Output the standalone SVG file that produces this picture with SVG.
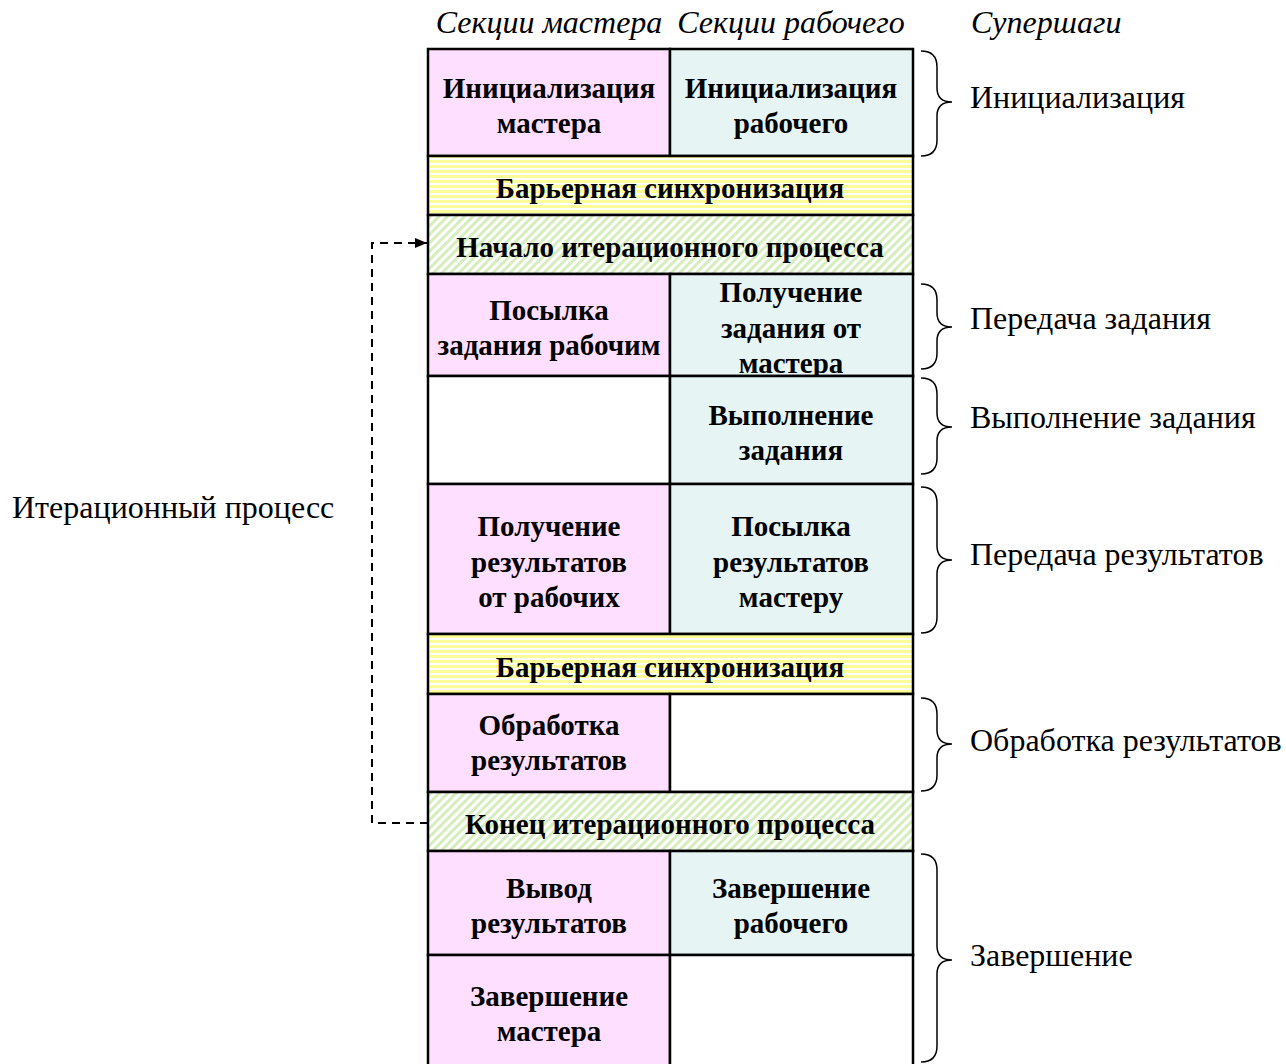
<svg xmlns="http://www.w3.org/2000/svg" width="1286" height="1064" viewBox="0 0 1286 1064">
<style>
.hdr{font-family:"Liberation Serif","Times New Roman",serif;font-style:italic;font-size:32px;fill:#000}
.lbl{font-family:"Liberation Serif","Times New Roman",serif;font-size:32px;fill:#000}
.cell{font-family:"Liberation Serif","Times New Roman",serif;font-weight:bold;font-size:29px;fill:#000;text-anchor:middle}
.box{stroke:#000;stroke-width:2.5}
.m{fill:#FFDFFF}
.w{fill:#E7F4F4}
.e{fill:#FFFFFF}
.brace{fill:none;stroke:#000;stroke-width:1.5}
</style>
<defs>
<pattern id="ys" width="10" height="5" patternUnits="userSpaceOnUse">
<rect width="10" height="5" fill="#FFFFFF"/>
<rect width="10" height="3" fill="#FFFF99"/>
</pattern>
<pattern id="gs" width="6" height="10" patternUnits="userSpaceOnUse" patternTransform="rotate(45)">
<rect width="6" height="10" fill="#FFFFFF"/>
<rect width="3" height="10" fill="#D6EDBE"/>
</pattern>
<marker id="arr" markerWidth="12" markerHeight="10" refX="12" refY="5" orient="auto" markerUnits="userSpaceOnUse">
<path d="M0,0 L12,5 L0,10 Z" fill="#000"/>
</marker>
</defs>

<g id="headers">
<text class="hdr" x="549" y="33" text-anchor="middle">Секции мастера</text>
<text class="hdr" x="791" y="33" text-anchor="middle">Секции рабочего</text>
<text class="hdr" x="971" y="33">Супершаги</text>
</g>

<g id="init-master"><rect class="box m" x="428" y="49" width="242" height="107"/>
<text class="cell" x="549" y="98">Инициализация</text><text class="cell" x="549" y="133">мастера</text></g>
<g id="init-worker"><rect class="box w" x="670" y="49" width="243" height="107"/>
<text class="cell" x="791" y="98">Инициализация</text><text class="cell" x="791" y="133">рабочего</text></g>

<g id="barrier1"><rect class="box" fill="url(#ys)" x="428" y="156" width="485" height="59"/>
<text class="cell" x="670" y="198">Барьерная синхронизация</text></g>

<g id="iter-start"><rect class="box" fill="url(#gs)" x="428" y="215" width="485" height="59"/>
<text class="cell" x="670" y="257">Начало итерационного процесса</text></g>

<g id="send-task"><rect class="box m" x="428" y="274" width="242" height="102"/>
<text class="cell" x="549" y="320">Посылка</text><text class="cell" x="549" y="355">задания рабочим</text></g>
<g id="recv-task"><rect class="box w" x="670" y="274" width="243" height="102"/>
<text class="cell" x="791" y="302">Получение</text><text class="cell" x="791" y="338">задания от</text><text class="cell" x="791" y="373">мастера</text></g>

<g id="exec-empty"><rect class="box e" x="428" y="376" width="242" height="108"/></g>
<g id="exec-task"><rect class="box w" x="670" y="376" width="243" height="108"/>
<text class="cell" x="791" y="425">Выполнение</text><text class="cell" x="791" y="460">задания</text></g>

<g id="recv-results"><rect class="box m" x="428" y="484" width="242" height="150"/>
<text class="cell" x="549" y="536">Получение</text><text class="cell" x="549" y="572">результатов</text><text class="cell" x="549" y="607">от рабочих</text></g>
<g id="send-results"><rect class="box w" x="670" y="484" width="243" height="150"/>
<text class="cell" x="791" y="536">Посылка</text><text class="cell" x="791" y="572">результатов</text><text class="cell" x="791" y="607">мастеру</text></g>

<g id="barrier2"><rect class="box" fill="url(#ys)" x="428" y="634" width="485" height="60"/>
<text class="cell" x="670" y="677">Барьерная синхронизация</text></g>

<g id="process-results"><rect class="box m" x="428" y="694" width="242" height="98"/>
<text class="cell" x="549" y="735">Обработка</text><text class="cell" x="549" y="770">результатов</text></g>
<g id="process-empty"><rect class="box e" x="670" y="694" width="243" height="98"/></g>

<g id="iter-end"><rect class="box" fill="url(#gs)" x="428" y="792" width="485" height="59"/>
<text class="cell" x="670" y="834">Конец итерационного процесса</text></g>

<g id="output"><rect class="box m" x="428" y="851" width="242" height="104"/>
<text class="cell" x="549" y="898">Вывод</text><text class="cell" x="549" y="933">результатов</text></g>
<g id="worker-finish"><rect class="box w" x="670" y="851" width="243" height="104"/>
<text class="cell" x="791" y="898">Завершение</text><text class="cell" x="791" y="933">рабочего</text></g>

<g id="master-finish"><rect class="box m" x="428" y="955" width="242" height="120"/>
<text class="cell" x="549" y="1006">Завершение</text><text class="cell" x="549" y="1041">мастера</text></g>
<g id="finish-empty"><rect class="box e" x="670" y="955" width="243" height="120"/></g>

<g id="braces">
<path class="brace" d="M921,51 C933,51 937,57 937,67 L937,88 C937,97 941,102 952,102 C941,102 937,107 937,116 L937,140 C937,150 933,156 921,156"/>
<path class="brace" d="M921,284 C933,284 937,290 937,300 L937,313 C937,322 941,327 952,327 C941,327 937,332 937,341 L937,353 C937,363 933,369 921,369"/>
<path class="brace" d="M921,378 C933,378 937,384 937,394 L937,413 C937,422 941,427 952,427 C941,427 937,432 937,441 L937,458 C937,468 933,474 921,474"/>
<path class="brace" d="M921,487 C933,487 937,493 937,503 L937,546 C937,555 941,560 952,560 C941,560 937,565 937,574 L937,617 C937,627 933,633 921,633"/>
<path class="brace" d="M921,698 C933,698 937,704 937,714 L937,730 C937,739 941,744 952,744 C941,744 937,749 937,758 L937,775 C937,785 933,791 921,791"/>
<path class="brace" d="M921,854 C933,854 937,860 937,870 L937,946 C937,955 941,960 952,960 C941,960 937,965 937,974 L937,1046 C937,1056 933,1062 921,1062"/>
</g>

<g id="superstep-labels">
<text class="lbl" x="970" y="108">Инициализация</text>
<text class="lbl" x="970" y="329">Передача задания</text>
<text class="lbl" x="970" y="428">Выполнение задания</text>
<text class="lbl" x="970" y="565">Передача результатов</text>
<text class="lbl" x="970" y="751">Обработка результатов</text>
<text class="lbl" x="970" y="966">Завершение</text>
</g>

<g id="iter-label"><text class="lbl" x="12" y="518">Итерационный процесс</text></g>

<g id="connectors">
<path d="M428,823 L372,823 L372,243 L427,243" fill="none" stroke="#000" stroke-width="2" stroke-dasharray="8,6" marker-end="url(#arr)"/>
</g>
</svg>
